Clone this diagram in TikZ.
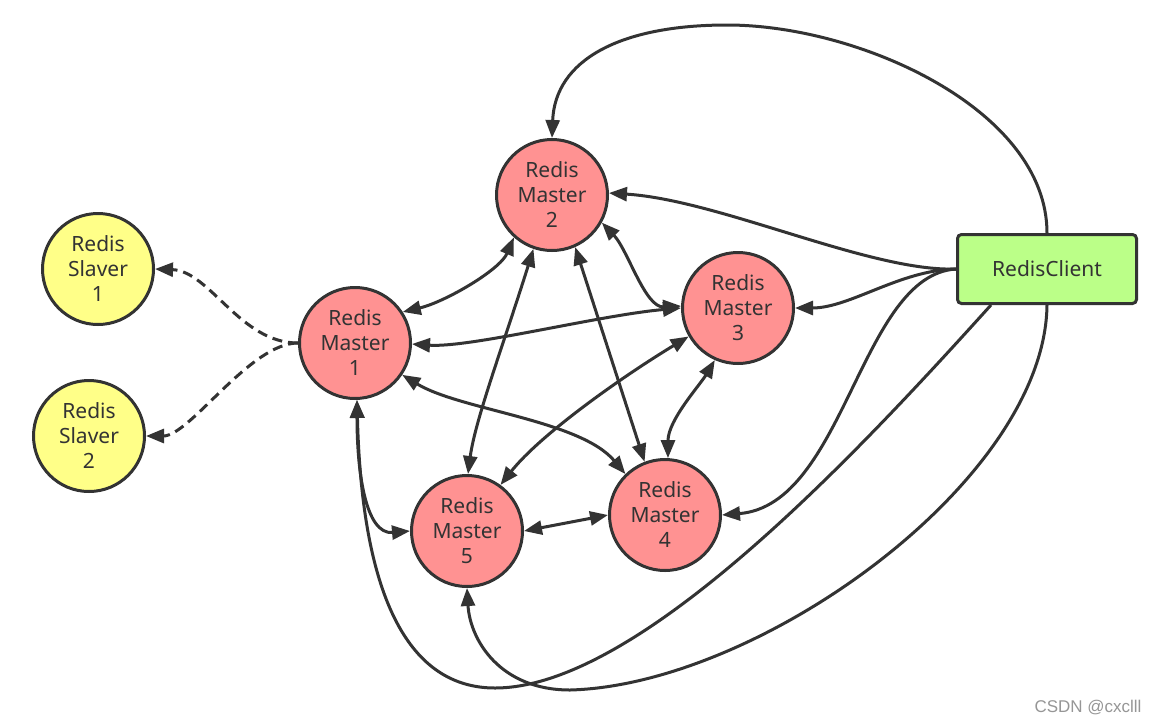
\documentclass[tikz,border=0pt]{standalone}
\usepackage{fontspec}
\setmainfont{Noto Sans}
\newfontfamily\wmfont{Liberation Sans}
\usetikzlibrary{arrows.meta}
\definecolor{lc}{HTML}{333333}
\definecolor{pinkf}{RGB}{255,146,146}
\definecolor{yelf}{RGB}{255,255,136}
\definecolor{grnf}{RGB}{187,255,136}
\definecolor{wmc}{RGB}{150,150,150}
\tikzset{
  master/.style={circle, draw=lc, line width=3pt, fill=pinkf, minimum size=111pt, inner sep=0pt,
     align=center, font=\fontsize{21pt}{25pt}\selectfont, text=lc},
  slave/.style={master, fill=yelf},
  client/.style={rectangle, rounded corners=4pt, draw=lc, line width=3pt, fill=grnf,
     minimum width=179pt, minimum height=69pt, font=\fontsize{21pt}{25pt}\selectfont, text=lc},
  conn/.style={draw=lc, line width=3pt},
  bi/.style={conn, {Triangle[length=18pt,width=14pt]}-{Triangle[length=18pt,width=14pt]}},
  uni/.style={conn, -{Triangle[length=18pt,width=14pt]}},
  dsh/.style={uni, dash pattern=on 10pt off 6pt},
}
\begin{document}
\begin{tikzpicture}[x=1pt,y=-1pt]
\useasboundingbox (0,0) rectangle (1160,724);
\fill[white] (0,0) rectangle (1160,724);

\node[master] (m1) at (355,343) {Redis\\Master\\1};
\node[master] (m2) at (552,195) {Redis\\Master\\2};
\node[master] (m3) at (738,308) {Redis\\Master\\3};
\node[master] (m4) at (665,515) {Redis\\Master\\4};
\node[master] (m5) at (467,531) {Redis\\Master\\5};
\node[slave] (s1) at (98,269) {Redis\\Slaver\\1};
\node[slave] (s2) at (89,436) {Redis\\Slaver\\2};
\node[client] (c) at (1047,269) {RedisClient};
\node[font=\wmfont\fontsize{17pt}{20pt}\selectfont, text=wmc] (wm) at (1088,708) {CSDN @cxclll};

% slaves
\draw[dsh] (m1.west) .. controls (240,343) and (210,271) .. (s1.east);
\draw[dsh] (m1.west) .. controls (250,343) and (190,436) .. (s2.east);

% master mesh
\draw[bi] (m1.33) .. controls (445,302) and (500,270) .. (m2.-132);
\draw[bi] (m1.-1) .. controls (470,348) and (600,315) .. (m3.180);
\draw[bi] (m2.-29.5) .. controls (628,250) and (645,308) .. (m3.178);
\draw[bi] (m2.-109) .. controls (505,340) and (475,420) .. (m5.89);
\draw[bi] (m2.-66) -- (m4.111);
\draw[bi] (m3.-150) .. controls (620,378) and (540,435) .. (m5.54.5);
\draw[bi] (m3.-114) .. controls (700,385) and (668,420) .. (m4.87);
\draw[bi] (m1.-34) .. controls (460,410) and (580,420) .. (m4.134);
\draw[bi] (m5.0) -- (m4.180);
\draw[bi] (m1.-88) .. controls (357,470) and (365,535) .. (m5.180);

% client links
\coordinate (top) at (727,25);
\coordinate (b1) at (495,688);
\coordinate (b2) at (570,690);
\draw[uni] (c.north) .. controls (1047,110) and (860,25) .. (top)
            .. controls (620,25) and (555,60) .. (m2.90);
\draw[uni] (c.west) .. controls (870,272) and (720,200) .. (m2.2);
\draw[uni] (c.west) .. controls (900,270) and (850,308) .. (m3.0);
\draw[uni] (c.west) .. controls (860,275) and (845,505) .. (m4.0);
\draw[uni] ([xshift=-56pt]c.south) .. controls (860,450) and (640,688) .. (b1)
            .. controls (410,688) and (362,600) .. (m1.-88);
\draw[uni] (c.south) .. controls (1045,480) and (760,685) .. (b2)
            .. controls (500,690) and (470,640) .. (m5.-90);
\end{tikzpicture}
\end{document}
